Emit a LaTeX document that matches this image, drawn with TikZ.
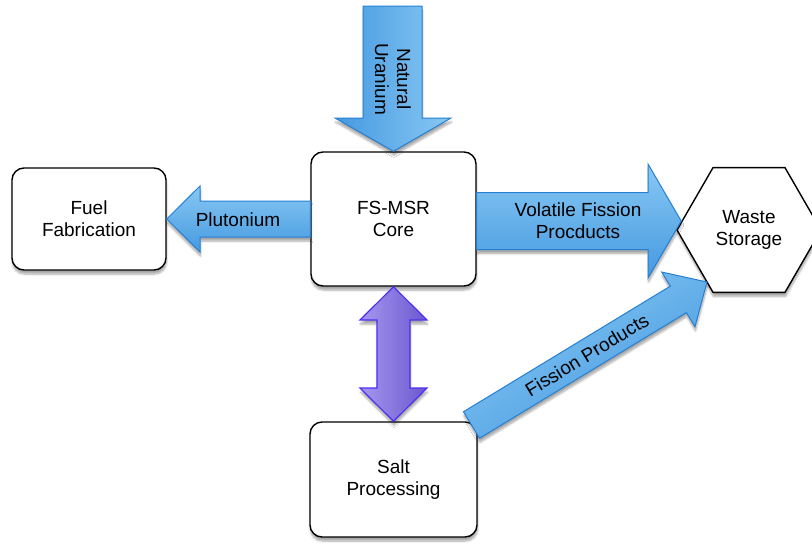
\documentclass[tikz,border=0pt]{standalone}
\usepackage{fontspec}
\setmainfont{Liberation Sans}
\usetikzlibrary{shapes.geometric,shadows.blur,calc}
\definecolor{bdark}{HTML}{4599E0}
\definecolor{blight}{HTML}{88C8F4}
\definecolor{bedge}{HTML}{2580D2}
\definecolor{plight}{HTML}{A797F0}
\definecolor{pdark}{HTML}{6A58CE}
\definecolor{pedge}{HTML}{4F2FF2}
\newcommand{\lbl}{\fontsize{19}{22}\selectfont}
\begin{document}
\begin{tikzpicture}[x=1pt,y=-1pt,
  shad/.style={blur shadow={shadow xshift=0.5pt, shadow yshift=-4pt, shadow blur steps=6, shadow opacity=35}},
  box/.style={draw=black, line width=1.4pt, rounded corners=12pt, fill=white, align=center, font=\lbl, inner sep=0pt, shad},
  hexa/.style={regular polygon, regular polygon sides=6, minimum size=144pt, draw=black, line width=1.4pt, fill=white, align=center, font=\lbl, inner sep=0pt, shad},
  bluev/.style={draw=bedge, line width=1pt, left color=bdark, right color=blight, shad},
  blueh/.style={draw=bedge, line width=1pt, top color=blight, bottom color=bdark, shad},
  purp/.style={draw=pedge, line width=1.2pt, left color=plight, right color=pdark, shad},
  lab/.style={font=\lbl, align=center, inner sep=0pt}
]
\useasboundingbox (0,0) rectangle (812,544);

% nodes
\node[box, minimum width=165pt, minimum height=134pt] (core) at (393.5,219) {FS-MSR\\Core};
\node[box, minimum width=154pt, minimum height=102pt] (fuel) at (89,219) {Fuel\\Fabrication};
\node[box, minimum width=167pt, minimum height=115pt] (salt) at (393.5,479.5) {Salt\\Processing};
\node[hexa] (waste) at (749,230) {Waste\\Storage};

% Natural Uranium arrow
\draw[bluev] (363,6) -- (422,6) -- (422,118) -- (451,118) -- (core.north) -- (335,118) -- (363,118) -- cycle;
\node[lab, rotate=-90] (nu) at (393,79) {Natural\\Uranium};

% Plutonium arrow
\draw[blueh] (core.west |- 0,201) -- (200,201) -- (200,186) -- (fuel.east) -- (200,252) -- (200,237) -- (core.west |- 0,237) -- cycle;
\node[lab] (pu) at (238,220) {Plutonium};

% Volatile fission products arrow
\coordinate (vtip) at ($(waste.west)+(5,-9)$);
\draw[blueh] (core.east |- 0,192.5) -- (648,192.5) -- (648,164) -- (vtip) -- (648,278) -- (648,249.5) -- (core.east |- 0,249.5) -- cycle;
\node[lab] (vfp) at (578,221) {Volatile Fission\\Procducts};

% Salt <-> Core double arrow
\draw[purp] (core.south) -- (427,320) -- (410,320) -- (410,388) -- (427,388) -- (salt.north) -- (360,388) -- (377,388) -- (377,320) -- (360,320) -- cycle;

% Fission products arrow
\coordinate (ftail) at (471.5,425);
\begin{scope}[shift={(ftail)}, rotate=31.27]
  \draw[blueh, shading angle=31.27] (0,15.5) -- (242,15.5) -- (242,32) -- (275.5,0) -- (242,-32) -- (242,-15.5) -- (0,-15.5) -- cycle;
  \node[lab, rotate=31.27] (fp) at (135,0) {Fission Products};
\end{scope}
\end{tikzpicture}
\end{document}
